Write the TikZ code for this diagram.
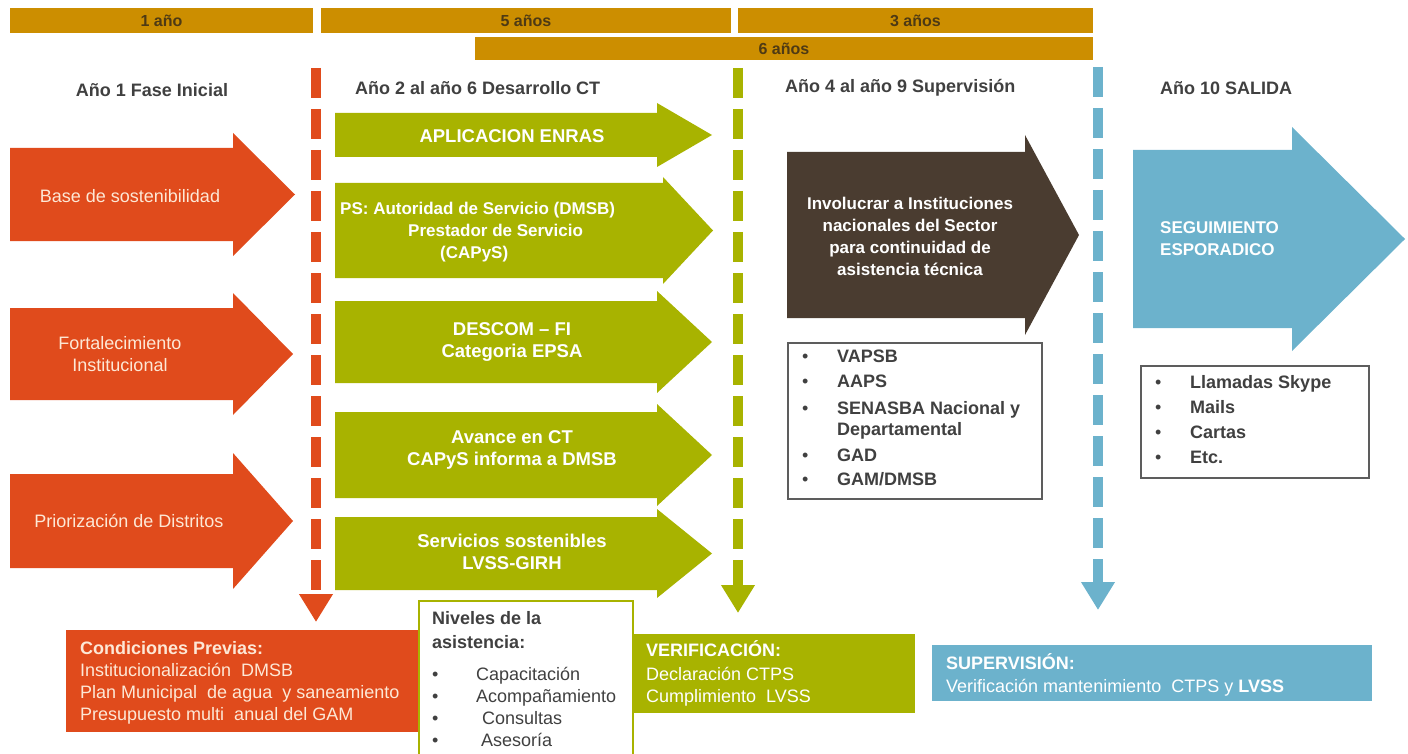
\documentclass[tikz,border=0pt]{standalone}
\usepackage{fontspec}
\setmainfont{Liberation Sans}
\usetikzlibrary{arrows.meta}
\definecolor{plangold}{RGB}{204,142,0}
\definecolor{planbartext}{RGB}{78,58,20}
\definecolor{planorange}{RGB}{224,75,28}
\definecolor{planolive}{RGB}{168,179,0}
\definecolor{planbrown}{RGB}{74,60,48}
\definecolor{planblue}{RGB}{108,178,204}
\definecolor{plangrey}{RGB}{64,64,64}
\definecolor{plancream}{RGB}{253,232,214}

\tikzstyle{plan} = [x=1pt, y=-1pt, every node/.style={inner sep=0pt, font=\fontsize{18}{22}\selectfont}]
\tikzstyle{yearbar} = [fill=plangold, text=planbartext, minimum height=25pt, font=\fontsize{16}{18}\selectfont\bfseries]
\tikzstyle{phasehead} = [anchor=west, text=plangrey, font=\fontsize{18}{22}\selectfont\bfseries]
\tikzstyle{divider} = [line width=10pt, dash pattern=on 30pt off 11pt, -{Triangle[width=32pt,length=28pt]}]
\tikzstyle{softtext} = [text=plancream, align=center]
\tikzstyle{ontext} = [text=white, align=center, font=\fontsize{18.5}{22}\selectfont\bfseries]
\tikzstyle{listbox} = [draw=plangrey!85, line width=1.5pt, fill=white, anchor=north west]
\tikzstyle{listtext} = [anchor=north west, text=plangrey, align=left, font=\fontsize{18}{21}\selectfont]
\tikzstyle{footbox} = [anchor=north west]

% block arrow: colour, left, head base, tip, top, bottom, overhang
\newcommand{\blockarrow}[7]{%
  \fill[#1] (#2,#5) -- (#3,#5) -- (#3,{#5-#7}) -- (#4,{(#5+#6)/2})
    -- (#3,{#6+#7}) -- (#3,#6) -- (#2,#6) -- cycle;}
\newcommand{\planitem}[1]{\makebox[35pt][l]{\textbullet}\textbf{#1}}

\begin{document}
\begin{tikzpicture}[plan]
  \useasboundingbox (0,0) rectangle (1408,754);

  % Year bars
  \node[yearbar, minimum width=303pt] (bar1) at (161.5,20.5) {1 año};
  \node[yearbar, minimum width=410pt] (bar5) at (526,20.5) {5 años};
  \node[yearbar, minimum width=355pt] (bar3) at (915.5,20.5) {3 años};
  \node[yearbar, minimum width=618pt, minimum height=23pt] (bar6) at (784,48.5) {6 años};

  % Phase headings
  \node[phasehead, anchor=center] (head1) at (152,90) {Año 1 Fase Inicial};
  \node[phasehead] (head2) at (355,88) {Año 2 al año 6 Desarrollo CT};
  \node[phasehead] (head3) at (785,88) {Año 4 al año 9 Supervisión};
  \node[phasehead] (head4) at (1160,88) {Año 10 SALIDA};

  % Fase inicial
  \blockarrow{planorange}{10}{233}{295}{148}{241}{15}
  \blockarrow{planorange}{10}{233}{293}{308}{400}{15}
  \blockarrow{planorange}{10}{233}{293}{474}{568}{21}
  \node[softtext] (base) at (130,196) {Base de sostenibilidad};
  \node[softtext] (fort) at (120,354) {Fortalecimiento\\Institucional};
  \node[softtext] (prio) at (129,521) {Priorización de Distritos};

  % Desarrollo CT
  \blockarrow{planolive}{335}{657}{712}{113}{157}{10}
  \blockarrow{planolive}{335}{663}{713}{183}{278}{6}
  \blockarrow{planolive}{335}{657}{712}{301}{383}{10}
  \blockarrow{planolive}{335}{657}{712}{412}{498}{8}
  \blockarrow{planolive}{335}{657}{712}{517}{590}{8}
  \node[ontext] (enras) at (512,136) {APLICACION ENRAS};
  \node[ontext, align=left, anchor=north west, font=\fontsize{17}{22}\selectfont\bfseries] (ps) at (340,202)
    {PS:\ Autoridad de Servicio (DMSB)\\\hspace*{68pt}Prestador de Servicio\\\hspace*{100pt}(CAPyS)};
  \node[ontext] (descom) at (512,342) {DESCOM -- FI\\Categoria EPSA};
  \node[ontext] (avance) at (512,450) {Avance en CT\\CAPyS informa a DMSB};
  \node[ontext] (lvss) at (512,552) {Servicios sostenibles\\LVSS-GIRH};

  % Supervision and salida
  \blockarrow{planbrown}{787}{1025}{1079}{152}{318}{17}
  \blockarrow{planblue}{1133}{1292}{1405}{150}{328}{23}
  \node[ontext, font=\fontsize{17}{22}\selectfont\bfseries] (inst) at (910,236)
    {Involucrar a Instituciones\\nacionales del Sector\\para continuidad de\\asistencia técnica};
  \node[ontext, align=left, anchor=west, font=\fontsize{17}{22}\selectfont\bfseries] (segui) at (1160,239) {SEGUIMIENTO\\ESPORADICO};

  % Dividers
  \coordinate (redtop) at (316,68);
  \coordinate (redend) at (316,622);
  \coordinate (olivetop) at (738,68);
  \coordinate (oliveend) at (738,613);
  \coordinate (bluetop) at (1098,67);
  \coordinate (blueend) at (1098,610);
  \draw[divider, planorange] (redtop) -- (redend);
  \draw[divider, planolive] (olivetop) -- (oliveend);
  \draw[divider, planblue] (bluetop) -- (blueend);

  % Lists
  \node[listbox, minimum width=254pt, minimum height=156pt] (instbox) at (787,342) {};
  \node[listtext] (instlist) at ([shift={(15,8)}]instbox.north west)
    {\planitem{VAPSB}\\[4pt]\planitem{AAPS}\\[6pt]\planitem{SENASBA Nacional y}\\
     \hspace*{35pt}\textbf{Departamental}\\[5pt]\planitem{GAD}\\[3pt]\planitem{GAM/DMSB}};
  \node[listbox, minimum width=228pt, minimum height=112pt] (contbox) at (1140,365) {};
  \node[listtext] (contlist) at ([shift={(15,10)}]contbox.north west)
    {\planitem{Llamadas Skype}\\[4pt]\planitem{Mails}\\[4pt]\planitem{Cartas}\\[4pt]\planitem{Etc.}};

  % Bottom boxes
  \node[footbox, fill=planorange, minimum width=352pt, minimum height=102pt] (prev) at (66,630) {};
  \node[anchor=north west, text=plancream, align=left] (prevtext) at (80,641)
    {\textbf{Condiciones Previas:}\\Institucionalización\ \ DMSB\\Plan Municipal\ \ de agua\ \ y saneamiento\\Presupuesto multi\ \ anual del GAM};
  \node[footbox, draw=planolive, line width=2pt, fill=white, minimum width=214pt, minimum height=170pt] (niveles) at (418,600) {};
  \node[anchor=north west, text=plangrey, align=left] (nivtext) at (432,611)
    {\textbf{Niveles de la}\\[2pt]\textbf{asistencia:}\\[10pt]\makebox[44pt][l]{\textbullet}Capacitación\\
     \makebox[44pt][l]{\textbullet}Acompañamiento\\\makebox[50pt][l]{\textbullet}Consultas\\\makebox[49pt][l]{\textbullet}Asesoría};
  \node[footbox, fill=planolive, minimum width=283pt, minimum height=79pt] (verif) at (632,634) {};
  \node[anchor=north west, text=white, align=left] (veriftext) at (646,640)
    {\textbf{VERIFICACIÓN:}\\[2pt]Declaración CTPS\\Cumplimiento\ \ LVSS};
  \node[footbox, fill=planblue, minimum width=440pt, minimum height=56pt] (superv) at (932,645) {};
  \node[anchor=north west, text=white, align=left] (supervtext) at (946,653)
    {\textbf{SUPERVISIÓN:}\\[1pt]Verificación mantenimiento\ \ CTPS y \textbf{LVSS}};
\end{tikzpicture}
\end{document}
